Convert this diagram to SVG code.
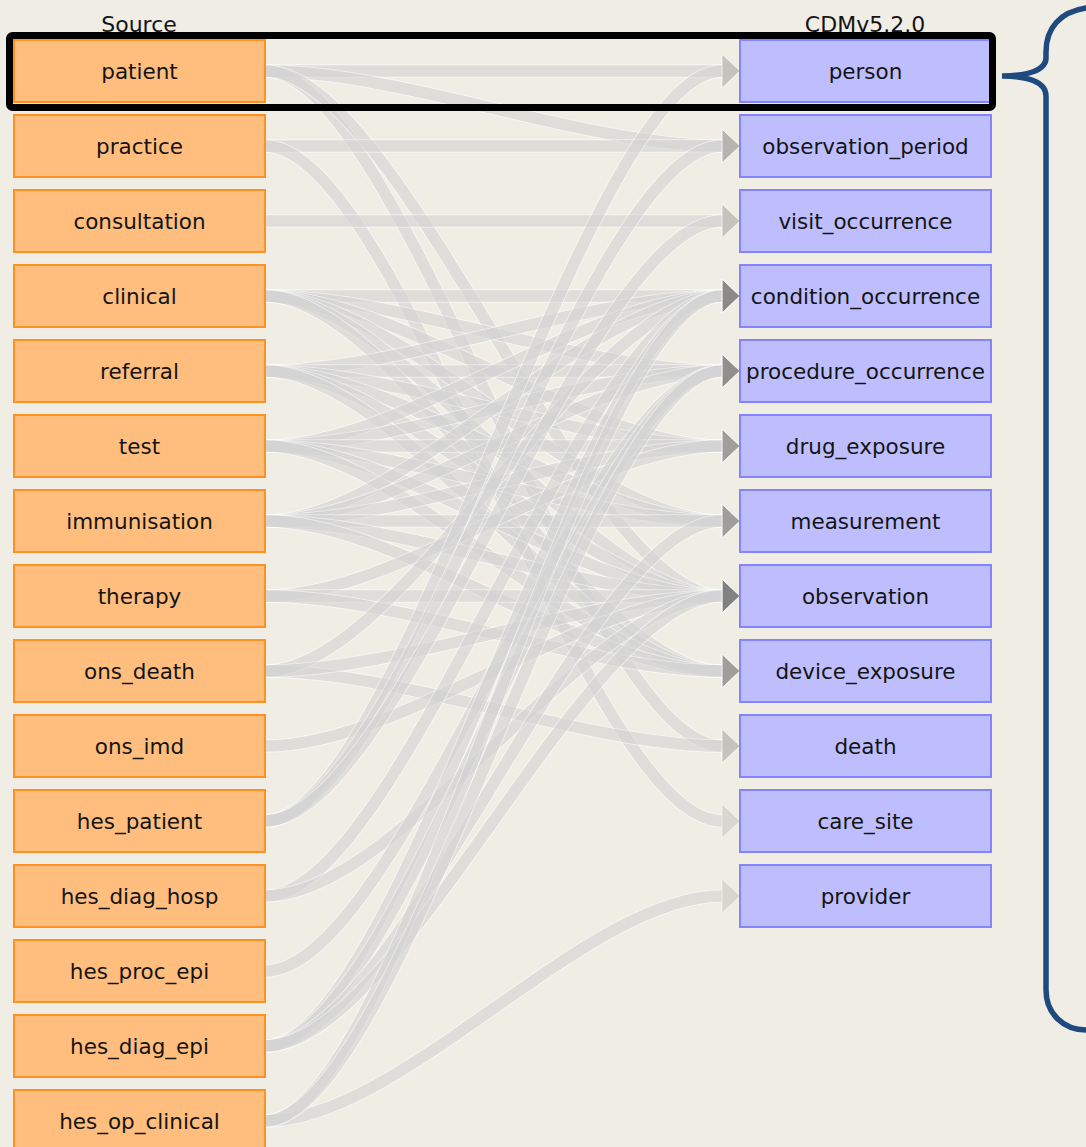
<svg xmlns="http://www.w3.org/2000/svg" width="1086" height="1147" viewBox="0 0 1086 1147">
<style>
.bg{fill:#efede4}
.src rect{fill:#ffbe7e;stroke:#ff9022;stroke-width:2}
.tgt rect{fill:#bebeff;stroke:#8484ff;stroke-width:2}
text{font-family:"DejaVu Sans","Liberation Sans",sans-serif;font-size:21.5px;fill:#141414;text-anchor:middle}
.hdr{font-size:22px}
.links path{fill:none}
.links .w{stroke:#ffffff;stroke-width:13.5;stroke-opacity:0.5}
.links .c{stroke:#747474;stroke-width:11.5;stroke-opacity:0.19}
.links .h{fill:#747474;fill-opacity:0.19;stroke:#ffffff;stroke-opacity:0.5;stroke-width:1}
</style>
<rect class="bg" x="0" y="0" width="1086" height="1147"/>
<text class="hdr" x="139" y="32">Source</text>
<text class="hdr" x="865" y="32">CDMv5.2.0</text>
<g class="links" id="connectors">
<!-- patient -->
<path class="w" d="M265,71 C402,71 585,71 722,71"/><path class="c" d="M265,71 C402,71 585,71 722,71"/><path class="h" d="M722,54 L740,71 L722,88 Z"/>
<path class="w" d="M265,71 C402,71 585,146 722,146"/><path class="c" d="M265,71 C402,71 585,146 722,146"/><path class="h" d="M722,129 L740,146 L722,163 Z"/>
<path class="w" d="M265,71 C402,71 585,746 722,746"/><path class="c" d="M265,71 C402,71 585,746 722,746"/><path class="h" d="M722,729 L740,746 L722,763 Z"/>
<path class="w" d="M265,71 C402,71 585,596 722,596"/><path class="c" d="M265,71 C402,71 585,596 722,596"/><path class="h" d="M722,579 L740,596 L722,613 Z"/>
<!-- practice -->
<path class="w" d="M265,146 C402,146 585,146 722,146"/><path class="c" d="M265,146 C402,146 585,146 722,146"/><path class="h" d="M722,129 L740,146 L722,163 Z"/>
<path class="w" d="M265,146 C402,146 585,821 722,821"/><path class="c" d="M265,146 C402,146 585,821 722,821"/><path class="h" d="M722,804 L740,821 L722,838 Z"/>
<!-- consultation -->
<path class="w" d="M265,221 C402,221 585,221 722,221"/><path class="c" d="M265,221 C402,221 585,221 722,221"/><path class="h" d="M722,204 L740,221 L722,238 Z"/>
<!-- clinical -->
<path class="w" d="M265,296 C402,296 585,296 722,296"/><path class="c" d="M265,296 C402,296 585,296 722,296"/><path class="h" d="M722,279 L740,296 L722,313 Z"/>
<path class="w" d="M265,296 C402,296 585,371 722,371"/><path class="c" d="M265,296 C402,296 585,371 722,371"/><path class="h" d="M722,354 L740,371 L722,388 Z"/>
<path class="w" d="M265,296 C402,296 585,446 722,446"/><path class="c" d="M265,296 C402,296 585,446 722,446"/><path class="h" d="M722,429 L740,446 L722,463 Z"/>
<path class="w" d="M265,296 C402,296 585,521 722,521"/><path class="c" d="M265,296 C402,296 585,521 722,521"/><path class="h" d="M722,504 L740,521 L722,538 Z"/>
<path class="w" d="M265,296 C402,296 585,596 722,596"/><path class="c" d="M265,296 C402,296 585,596 722,596"/><path class="h" d="M722,579 L740,596 L722,613 Z"/>
<path class="w" d="M265,296 C402,296 585,671 722,671"/><path class="c" d="M265,296 C402,296 585,671 722,671"/><path class="h" d="M722,654 L740,671 L722,688 Z"/>
<!-- referral -->
<path class="w" d="M265,371 C402,371 585,296 722,296"/><path class="c" d="M265,371 C402,371 585,296 722,296"/><path class="h" d="M722,279 L740,296 L722,313 Z"/>
<path class="w" d="M265,371 C402,371 585,371 722,371"/><path class="c" d="M265,371 C402,371 585,371 722,371"/><path class="h" d="M722,354 L740,371 L722,388 Z"/>
<path class="w" d="M265,371 C402,371 585,446 722,446"/><path class="c" d="M265,371 C402,371 585,446 722,446"/><path class="h" d="M722,429 L740,446 L722,463 Z"/>
<path class="w" d="M265,371 C402,371 585,521 722,521"/><path class="c" d="M265,371 C402,371 585,521 722,521"/><path class="h" d="M722,504 L740,521 L722,538 Z"/>
<path class="w" d="M265,371 C402,371 585,596 722,596"/><path class="c" d="M265,371 C402,371 585,596 722,596"/><path class="h" d="M722,579 L740,596 L722,613 Z"/>
<path class="w" d="M265,371 C402,371 585,671 722,671"/><path class="c" d="M265,371 C402,371 585,671 722,671"/><path class="h" d="M722,654 L740,671 L722,688 Z"/>
<!-- test -->
<path class="w" d="M265,446 C402,446 585,296 722,296"/><path class="c" d="M265,446 C402,446 585,296 722,296"/><path class="h" d="M722,279 L740,296 L722,313 Z"/>
<path class="w" d="M265,446 C402,446 585,371 722,371"/><path class="c" d="M265,446 C402,446 585,371 722,371"/><path class="h" d="M722,354 L740,371 L722,388 Z"/>
<path class="w" d="M265,446 C402,446 585,446 722,446"/><path class="c" d="M265,446 C402,446 585,446 722,446"/><path class="h" d="M722,429 L740,446 L722,463 Z"/>
<path class="w" d="M265,446 C402,446 585,521 722,521"/><path class="c" d="M265,446 C402,446 585,521 722,521"/><path class="h" d="M722,504 L740,521 L722,538 Z"/>
<path class="w" d="M265,446 C402,446 585,596 722,596"/><path class="c" d="M265,446 C402,446 585,596 722,596"/><path class="h" d="M722,579 L740,596 L722,613 Z"/>
<path class="w" d="M265,446 C402,446 585,671 722,671"/><path class="c" d="M265,446 C402,446 585,671 722,671"/><path class="h" d="M722,654 L740,671 L722,688 Z"/>
<!-- immunisation -->
<path class="w" d="M265,521 C402,521 585,296 722,296"/><path class="c" d="M265,521 C402,521 585,296 722,296"/><path class="h" d="M722,279 L740,296 L722,313 Z"/>
<path class="w" d="M265,521 C402,521 585,371 722,371"/><path class="c" d="M265,521 C402,521 585,371 722,371"/><path class="h" d="M722,354 L740,371 L722,388 Z"/>
<path class="w" d="M265,521 C402,521 585,446 722,446"/><path class="c" d="M265,521 C402,521 585,446 722,446"/><path class="h" d="M722,429 L740,446 L722,463 Z"/>
<path class="w" d="M265,521 C402,521 585,521 722,521"/><path class="c" d="M265,521 C402,521 585,521 722,521"/><path class="h" d="M722,504 L740,521 L722,538 Z"/>
<path class="w" d="M265,521 C402,521 585,596 722,596"/><path class="c" d="M265,521 C402,521 585,596 722,596"/><path class="h" d="M722,579 L740,596 L722,613 Z"/>
<path class="w" d="M265,521 C402,521 585,671 722,671"/><path class="c" d="M265,521 C402,521 585,671 722,671"/><path class="h" d="M722,654 L740,671 L722,688 Z"/>
<!-- therapy -->
<path class="w" d="M265,596 C402,596 585,446 722,446"/><path class="c" d="M265,596 C402,596 585,446 722,446"/><path class="h" d="M722,429 L740,446 L722,463 Z"/>
<path class="w" d="M265,596 C402,596 585,596 722,596"/><path class="c" d="M265,596 C402,596 585,596 722,596"/><path class="h" d="M722,579 L740,596 L722,613 Z"/>
<path class="w" d="M265,596 C402,596 585,671 722,671"/><path class="c" d="M265,596 C402,596 585,671 722,671"/><path class="h" d="M722,654 L740,671 L722,688 Z"/>
<!-- ons_death -->
<path class="w" d="M265,671 C402,671 585,746 722,746"/><path class="c" d="M265,671 C402,671 585,746 722,746"/><path class="h" d="M722,729 L740,746 L722,763 Z"/>
<path class="w" d="M265,671 C402,671 585,296 722,296"/><path class="c" d="M265,671 C402,671 585,296 722,296"/><path class="h" d="M722,279 L740,296 L722,313 Z"/>
<path class="w" d="M265,671 C402,671 585,596 722,596"/><path class="c" d="M265,671 C402,671 585,596 722,596"/><path class="h" d="M722,579 L740,596 L722,613 Z"/>
<!-- ons_imd -->
<path class="w" d="M265,746 C402,746 585,596 722,596"/><path class="c" d="M265,746 C402,746 585,596 722,596"/><path class="h" d="M722,579 L740,596 L722,613 Z"/>
<!-- hes_patient -->
<path class="w" d="M265,821 C402,821 585,71 722,71"/><path class="c" d="M265,821 C402,821 585,71 722,71"/><path class="h" d="M722,54 L740,71 L722,88 Z"/>
<path class="w" d="M265,821 C402,821 585,146 722,146"/><path class="c" d="M265,821 C402,821 585,146 722,146"/><path class="h" d="M722,129 L740,146 L722,163 Z"/>
<path class="w" d="M265,821 C402,821 585,221 722,221"/><path class="c" d="M265,821 C402,821 585,221 722,221"/><path class="h" d="M722,204 L740,221 L722,238 Z"/>
<!-- hes_diag_hosp -->
<path class="w" d="M265,896 C402,896 585,296 722,296"/><path class="c" d="M265,896 C402,896 585,296 722,296"/><path class="h" d="M722,279 L740,296 L722,313 Z"/>
<path class="w" d="M265,896 C402,896 585,596 722,596"/><path class="c" d="M265,896 C402,896 585,596 722,596"/><path class="h" d="M722,579 L740,596 L722,613 Z"/>
<!-- hes_proc_epi -->
<path class="w" d="M265,971 C402,971 585,371 722,371"/><path class="c" d="M265,971 C402,971 585,371 722,371"/><path class="h" d="M722,354 L740,371 L722,388 Z"/>
<!-- hes_diag_epi -->
<path class="w" d="M265,1046 C402,1046 585,296 722,296"/><path class="c" d="M265,1046 C402,1046 585,296 722,296"/><path class="h" d="M722,279 L740,296 L722,313 Z"/>
<path class="w" d="M265,1046 C402,1046 585,371 722,371"/><path class="c" d="M265,1046 C402,1046 585,371 722,371"/><path class="h" d="M722,354 L740,371 L722,388 Z"/>
<path class="w" d="M265,1046 C402,1046 585,521 722,521"/><path class="c" d="M265,1046 C402,1046 585,521 722,521"/><path class="h" d="M722,504 L740,521 L722,538 Z"/>
<path class="w" d="M265,1046 C402,1046 585,596 722,596"/><path class="c" d="M265,1046 C402,1046 585,596 722,596"/><path class="h" d="M722,579 L740,596 L722,613 Z"/>
<!-- hes_op_clinical -->
<path class="w" d="M265,1121 C402,1121 585,896 722,896"/><path class="c" d="M265,1121 C402,1121 585,896 722,896"/><path class="h" d="M722,879 L740,896 L722,913 Z"/>
<path class="w" d="M265,1121 C402,1121 585,296 722,296"/><path class="c" d="M265,1121 C402,1121 585,296 722,296"/><path class="h" d="M722,279 L740,296 L722,313 Z"/>
<path class="w" d="M265,1121 C402,1121 585,371 722,371"/><path class="c" d="M265,1121 C402,1121 585,371 722,371"/><path class="h" d="M722,354 L740,371 L722,388 Z"/>
</g>
<g id="src-patient" class="src"><rect x="14" y="40" width="251" height="62"/><text x="139.5" y="79">patient</text></g>
<g id="src-practice" class="src"><rect x="14" y="115" width="251" height="62"/><text x="139.5" y="154">practice</text></g>
<g id="src-consultation" class="src"><rect x="14" y="190" width="251" height="62"/><text x="139.5" y="229">consultation</text></g>
<g id="src-clinical" class="src"><rect x="14" y="265" width="251" height="62"/><text x="139.5" y="304">clinical</text></g>
<g id="src-referral" class="src"><rect x="14" y="340" width="251" height="62"/><text x="139.5" y="379">referral</text></g>
<g id="src-test" class="src"><rect x="14" y="415" width="251" height="62"/><text x="139.5" y="454">test</text></g>
<g id="src-immunisation" class="src"><rect x="14" y="490" width="251" height="62"/><text x="139.5" y="529">immunisation</text></g>
<g id="src-therapy" class="src"><rect x="14" y="565" width="251" height="62"/><text x="139.5" y="604">therapy</text></g>
<g id="src-ons_death" class="src"><rect x="14" y="640" width="251" height="62"/><text x="139.5" y="679">ons_death</text></g>
<g id="src-ons_imd" class="src"><rect x="14" y="715" width="251" height="62"/><text x="139.5" y="754">ons_imd</text></g>
<g id="src-hes_patient" class="src"><rect x="14" y="790" width="251" height="62"/><text x="139.5" y="829">hes_patient</text></g>
<g id="src-hes_diag_hosp" class="src"><rect x="14" y="865" width="251" height="62"/><text x="139.5" y="904">hes_diag_hosp</text></g>
<g id="src-hes_proc_epi" class="src"><rect x="14" y="940" width="251" height="62"/><text x="139.5" y="979">hes_proc_epi</text></g>
<g id="src-hes_diag_epi" class="src"><rect x="14" y="1015" width="251" height="62"/><text x="139.5" y="1054">hes_diag_epi</text></g>
<g id="src-hes_op_clinical" class="src"><rect x="14" y="1090" width="251" height="62"/><text x="139.5" y="1129">hes_op_clinical</text></g>
<g id="tgt-person" class="tgt"><rect x="740" y="40" width="251" height="62"/><text x="865.5" y="79">person</text></g>
<g id="tgt-observation_period" class="tgt"><rect x="740" y="115" width="251" height="62"/><text x="865.5" y="154">observation_period</text></g>
<g id="tgt-visit_occurrence" class="tgt"><rect x="740" y="190" width="251" height="62"/><text x="865.5" y="229">visit_occurrence</text></g>
<g id="tgt-condition_occurrence" class="tgt"><rect x="740" y="265" width="251" height="62"/><text x="865.5" y="304">condition_occurrence</text></g>
<g id="tgt-procedure_occurrence" class="tgt"><rect x="740" y="340" width="251" height="62"/><text x="865.5" y="379">procedure_occurrence</text></g>
<g id="tgt-drug_exposure" class="tgt"><rect x="740" y="415" width="251" height="62"/><text x="865.5" y="454">drug_exposure</text></g>
<g id="tgt-measurement" class="tgt"><rect x="740" y="490" width="251" height="62"/><text x="865.5" y="529">measurement</text></g>
<g id="tgt-observation" class="tgt"><rect x="740" y="565" width="251" height="62"/><text x="865.5" y="604">observation</text></g>
<g id="tgt-device_exposure" class="tgt"><rect x="740" y="640" width="251" height="62"/><text x="865.5" y="679">device_exposure</text></g>
<g id="tgt-death" class="tgt"><rect x="740" y="715" width="251" height="62"/><text x="865.5" y="754">death</text></g>
<g id="tgt-care_site" class="tgt"><rect x="740" y="790" width="251" height="62"/><text x="865.5" y="829">care_site</text></g>
<g id="tgt-provider" class="tgt"><rect x="740" y="865" width="251" height="62"/><text x="865.5" y="904">provider</text></g>
<g id="highlight"><rect x="9.5" y="35.5" width="983" height="72" rx="3" fill="none" stroke="#000000" stroke-width="7"/></g>
<g id="brace"><path d="M1086,8 C1060,12 1046,28 1046,52 L1046,58 C1046,70 1028,76 1002,76 C1028,76 1046,82 1046,96 L1046,990 C1046,1014 1064,1030 1086,1030" fill="none" stroke="#1f4a80" stroke-width="5.5" stroke-linecap="round"/></g>
</svg>
